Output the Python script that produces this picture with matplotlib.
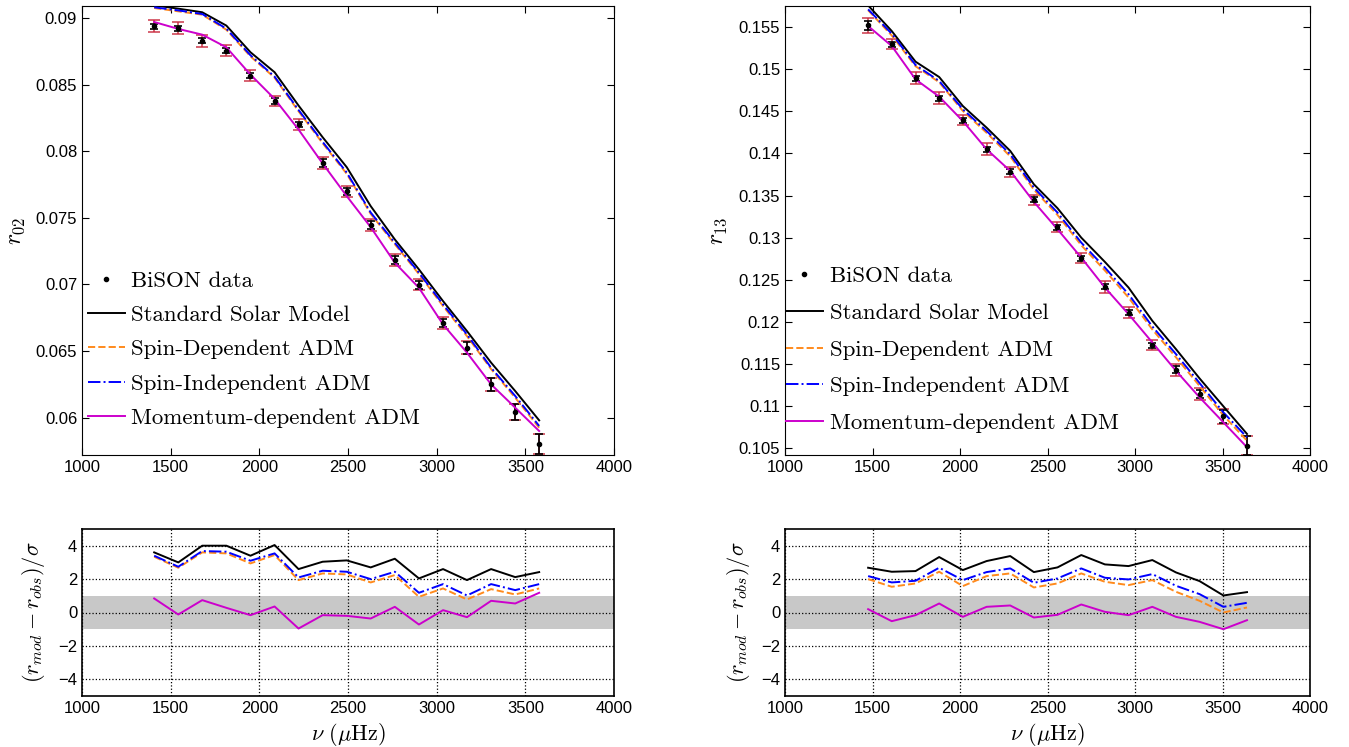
import numpy as np
import matplotlib
matplotlib.use("Agg")
from matplotlib import pyplot as plt
from matplotlib.ticker import FuncFormatter, MultipleLocator

plt.rcParams['font.family'] = ['Liberation Sans', 'DejaVu Sans']
plt.rcParams['mathtext.fontset'] = 'cm'

# frequencies (muHz)
nu02 = [1407, 1543, 1678, 1814, 1950, 2086, 2221, 2357, 2493, 2628, 2764, 2900, 3036, 3171, 3307, 3443, 3578]
nu13 = [1475, 1610, 1746, 1881, 2016, 2152, 2287, 2422, 2557, 2693, 2828, 2963, 3099, 3234, 3369, 3505, 3640]

# r02 ratios
r02_obs = [0.08938, 0.08922, 0.08830, 0.08755, 0.08568, 0.08378, 0.08203, 0.07913, 0.07698, 0.07445,
           0.07180, 0.06998, 0.06713, 0.06525, 0.06250, 0.06045, 0.05800]
r02_err_red = [0.00045, 0.00045, 0.00045, 0.0004, 0.0004, 0.0004, 0.0004, 0.00045, 0.0004, 0.00045,
               0.00045, 0.0004, 0.00045, 0.0005, 0.0005, 0.0006, 0.00075]
r02_err_blk = [0.0002, 0.0002, 0.0002, 0.0002, 0.0002, 0.0002, 0.0002, 0.0003, 0.00025, 0.0003,
               0.0003, 0.0003, 0.0003, 0.00045, 0.0005, 0.0006, 0.00075]
r02_ssm = [0.09095, 0.09070, 0.09043, 0.08943, 0.08743, 0.08593, 0.08343, 0.08105, 0.07880, 0.07588,
           0.07338, 0.07113, 0.06875, 0.06650, 0.06413, 0.06200, 0.05980]
r02_si = [0.09080, 0.09057, 0.09030, 0.08920, 0.08720, 0.08560, 0.08310, 0.08070, 0.07840, 0.07540,
          0.07313, 0.07088, 0.06850, 0.06625, 0.06375, 0.06163, 0.05938]
r02_sd = [0.09075, 0.09050, 0.09025, 0.08912, 0.08712, 0.08552, 0.08300, 0.08060, 0.07830, 0.07530,
          0.07302, 0.07078, 0.06838, 0.06612, 0.06365, 0.06150, 0.05925]
r02_md = [0.08970, 0.08918, 0.08875, 0.08780, 0.08575, 0.08393, 0.08163, 0.07908, 0.07663, 0.07430,
          0.07163, 0.06975, 0.06700, 0.06488, 0.06250, 0.06075, 0.05900]

# r13 ratios
r13_obs = [0.15520, 0.15294, 0.14891, 0.14654, 0.14393, 0.14049, 0.13781, 0.13449, 0.13123, 0.12755,
           0.12415, 0.12111, 0.11724, 0.11432, 0.11144, 0.10879, 0.10531]
r13_err_red = [0.0009, 0.0006, 0.0007, 0.0007, 0.0006, 0.0007, 0.0006, 0.0006, 0.0006, 0.0006,
               0.0007, 0.0007, 0.0006, 0.0007, 0.0007, 0.0009, 0.0011]
r13_err_blk = [0.0005, 0.0003, 0.0003, 0.0003, 0.0003, 0.0003, 0.0003, 0.0003, 0.0003, 0.0003,
               0.0003, 0.0003, 0.0003, 0.0004, 0.0005, 0.0008, 0.0011]
r13_ssm = [0.15757, 0.15453, 0.15089, 0.14907, 0.14563, 0.14306, 0.14030, 0.13634, 0.13350, 0.13000,
           0.12712, 0.12408, 0.12013, 0.11677, 0.11329, 0.10998, 0.10670]
r13_si = [0.15710, 0.15421, 0.15050, 0.14860, 0.14524, 0.14267, 0.13990, 0.13595, 0.13298, 0.12941,
          0.12645, 0.12329, 0.11946, 0.11618, 0.11274, 0.10926, 0.10630]
r13_sd = [0.15700, 0.15400, 0.15035, 0.14845, 0.14505, 0.14245, 0.13965, 0.13570, 0.13270, 0.12910,
          0.12610, 0.12290, 0.11910, 0.11580, 0.11240, 0.10890, 0.10590]
r13_md = [0.15512, 0.15275, 0.14879, 0.14674, 0.14385, 0.14049, 0.13792, 0.13425, 0.13100, 0.12763,
          0.12408, 0.12092, 0.11756, 0.11420, 0.11104, 0.10808, 0.10512]

# residuals (r_mod - r_obs)/sigma
res02_ssm = [3.6, 3.0, 4.0, 4.0, 3.4, 4.04, 2.6, 3.04, 3.12, 2.7, 3.22, 2.04, 2.6, 1.94, 2.6, 2.12, 2.42]
res02_si = [3.4, 2.74, 3.68, 3.64, 3.1, 3.54, 2.1, 2.5, 2.44, 2.0, 2.44, 1.18, 1.7, 1.02, 1.7, 1.34, 1.7]
res02_sd = [3.34, 2.68, 3.6, 3.54, 2.94, 3.44, 1.94, 2.34, 2.28, 1.8, 2.24, 0.94, 1.44, 0.78, 1.4, 1.08, 1.44]
res02_md = [0.84, -0.12, 0.74, 0.28, -0.16, 0.36, -0.96, -0.16, -0.2, -0.36, 0.34, -0.72, 0.14, -0.28, 0.7, 0.54, 1.18]

res13_ssm = [2.68, 2.44, 2.48, 3.32, 2.54, 3.08, 3.38, 2.42, 2.7, 3.44, 2.88, 2.78, 3.14, 2.4, 1.88, 1.02, 1.22]
res13_si = [2.18, 1.8, 1.9, 2.68, 1.94, 2.42, 2.64, 1.78, 2.04, 2.64, 2.08, 1.98, 2.3, 1.6, 1.1, 0.34, 0.58]
res13_sd = [2.0, 1.54, 1.74, 2.44, 1.58, 2.18, 2.34, 1.5, 1.74, 2.34, 1.84, 1.64, 1.94, 1.24, 0.7, 0.0, 0.3]
res13_md = [0.2, -0.52, -0.16, 0.54, -0.26, 0.34, 0.42, -0.3, -0.14, 0.48, 0.04, -0.16, 0.34, -0.26, -0.56, -1.0, -0.46]

ORANGE = '#ff8a1c'
BLUE = '#0000ff'
MAGENTA = '#cc00cc'
RED = '#c8283c'

fig = plt.figure(figsize=(13.49, 7.47), dpi=100)
W, H = 1349.0, 747.0


def px_axes(x0, y0, x1, y1):
    return fig.add_axes([x0 / W, 1 - y1 / H, (x1 - x0) / W, (y1 - y0) / H])


ax1 = px_axes(82, 6, 614, 455)
ax2 = px_axes(785, 6, 1310, 455)
ax3 = px_axes(82, 529, 614, 696)
ax4 = px_axes(785, 529, 1310, 696)

fmt = FuncFormatter(lambda v, p: '%g' % round(v, 4))


def top_panel(ax, nu, obs, er, eb, ssm, sd, si, md, ylim, ylab, labx, leg_anchor, leg_sp):
    ax.errorbar(nu, obs, yerr=er, fmt='none', ecolor=RED, alpha=0.85, elinewidth=1.2, capsize=4, capthick=1.2, zorder=2)
    ax.errorbar(nu, obs, yerr=eb, fmt='none', ecolor='black', elinewidth=1.2, capsize=3, capthick=1.2, zorder=3)
    ax.plot(nu, obs, 'k.', ms=6, ls='none', label='BiSON data', zorder=6)
    ax.plot(nu, ssm, '-', color='black', lw=1.4, label='Standard Solar Model', zorder=4)
    ax.plot(nu, sd, '--', color=ORANGE, lw=1.4, label='Spin-Dependent ADM', zorder=4)
    ax.plot(nu, si, '-.', color=BLUE, lw=1.4, label='Spin-Independent ADM', zorder=5)
    ax.plot(nu, md, '-', color=MAGENTA, lw=1.4, label='Momentum-dependent ADM', zorder=5)
    ax.set_xlim(1000, 4000)
    ax.set_ylim(*ylim)
    ax.xaxis.set_major_locator(MultipleLocator(500))
    ax.yaxis.set_major_locator(MultipleLocator(0.005))
    ax.yaxis.set_major_formatter(fmt)
    ax.tick_params(direction='in', top=True, right=True, length=5, labelsize=12)
    ax.set_ylabel(ylab, fontsize=17)
    ax.yaxis.set_label_coords(labx, 0.5)
    ax.legend(loc='upper left', bbox_to_anchor=leg_anchor, frameon=False,
              prop={'family': 'cmr10', 'size': 16.5}, handlelength=1.6, handletextpad=0.3,
              labelspacing=leg_sp, borderaxespad=0, borderpad=0)


def bottom_panel(ax, nu, ssm, sd, si, md, labx):
    ax.axhspan(-1, 1, color='#c8c8c8', zorder=0, lw=0)
    ax.plot(nu, ssm, '-', color='black', lw=1.4, zorder=4)
    ax.plot(nu, sd, '--', color=ORANGE, lw=1.4, zorder=4)
    ax.plot(nu, si, '-.', color=BLUE, lw=1.4, zorder=5)
    ax.plot(nu, md, '-', color=MAGENTA, lw=1.4, zorder=5)
    ax.set_xlim(1000, 4000)
    ax.set_ylim(-5, 5)
    ax.xaxis.set_major_locator(MultipleLocator(500))
    ax.set_yticks([-4, -2, 0, 2, 4])
    ax.grid(True, color='black', ls=':', lw=0.9)
    ax.set_axisbelow(False)
    ax.tick_params(direction='in', length=0, labelsize=12)
    for s in ax.spines.values():
        s.set_linewidth(1.2)
    ax.set_ylabel(r'$(r_{mod}-r_{obs})/\sigma$', fontsize=16)
    ax.yaxis.set_label_coords(labx, 0.5)
    ax.set_xlabel(r'$\nu\ (\mu\mathrm{Hz})$', fontsize=16)


top_panel(ax1, nu02, r02_obs, r02_err_red, r02_err_blk, r02_ssm, r02_sd, r02_si, r02_md,
          (0.0572, 0.0909), r'$r_{02}$', -0.103, (0.011, 0.41), 0.62)
top_panel(ax2, nu13, r13_obs, r13_err_red, r13_err_blk, r13_ssm, r13_sd, r13_si, r13_md,
          (0.1042, 0.1575), r'$r_{13}$', -0.107, (0.002, 0.42), 0.72)
bottom_panel(ax3, nu02, res02_ssm, res02_sd, res02_si, res02_md, -0.066)
bottom_panel(ax4, nu13, res13_ssm, res13_sd, res13_si, res13_md, -0.063)

fig.savefig('out.png', dpi=100)
